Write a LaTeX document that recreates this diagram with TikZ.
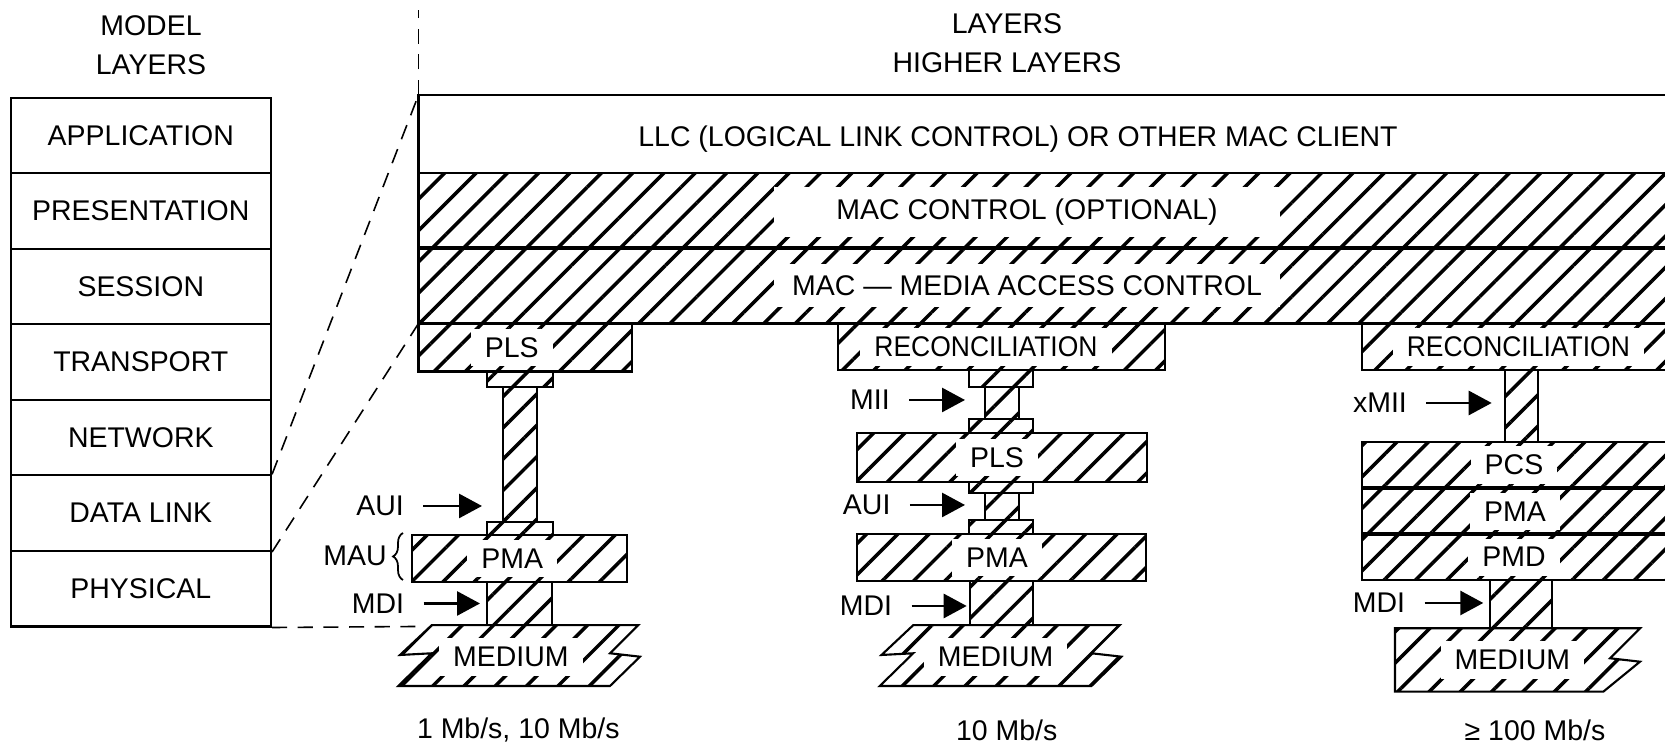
\documentclass[tikz,border=0pt]{standalone}
\usepackage{fontspec}
\setmainfont{Liberation Sans}
\usepackage{graphicx}
\usetikzlibrary{arrows.meta,calc,positioning,decorations.pathreplacing,patterns.meta}

\begin{document}
\begin{tikzpicture}[x=1cm,y=1cm,font=\fontsize{8.1}{11}\selectfont,
  box/.style={draw,line width=.6pt},
  hatch/.style={box,pattern={Lines[angle=45,distance=6.3pt,line width=1pt]}},
  sep/.style={line width=1.2pt},
  osi/.style={box,minimum width=2.604cm,minimum height=.7554cm,inner sep=0pt},
  tag/.style={fill=white,inner xsep=4pt,inner ysep=2.5pt},
  arr/.style={line width=.8pt,shorten <=2pt,-{Triangle[length=2.3mm,width=2.4mm]}},
  lnk/.style={line width=.45pt,dash pattern=on 4.3pt off 3pt}]
 \fill[white,use as bounding box] (0,0) rectangle (16.65,7.43);
 \clip (0,0) rectangle (16.65,7.43);
 \node[align=center] (model) at (1.51,6.98) {MODEL\\LAYERS};
 \foreach \name [count=\i from 0] in {APPLICATION,PRESENTATION,SESSION,TRANSPORT,NETWORK,DATA LINK,PHYSICAL}
    \node[osi] (o\i) at (1.408,{6.453-(\i+.5)*.7554}) {\name};
 \node[align=center] (layers) at (10.07,7.0) {LAYERS\\HIGHER LAYERS};
 \coordinate (top) at (4.185,7.33);
 \coordinate (llctl) at (4.185,6.48);
 \coordinate (mactl) at (4.185,4.195);
 \coordinate (medl) at (4.16,1.165);
 \draw[box] (4.185,6.48) rectangle (16.8,5.70);
 \draw[hatch] (4.185,5.70) rectangle (16.8,4.195);
 \draw[sep] (4.185,4.95) -- (16.8,4.95);
 \node (llc) at (10.18,6.04) {LLC (LOGICAL LINK CONTROL) OR OTHER MAC CLIENT};
 \node[fill=white,minimum width=5.06cm,minimum height=.42cm] (macctl) at (10.27,5.31)
   {MAC CONTROL (OPTIONAL)};
 \node[fill=white,minimum width=5.06cm,minimum height=.37cm] (mac) at (10.27,4.575)
   {MAC — MEDIA ACCESS CONTROL};
 \draw[lnk] (o5.north east) -- (llctl);
 \draw[lnk] (o5.south east) -- (mactl);
 \draw[lnk] (o6.south east) -- (medl);
 \draw[lnk] (llctl) -- (top);
 \draw[hatch] (4.185,4.195) rectangle (6.317,3.715);
 \draw[hatch] (4.873,3.715) rectangle (5.527,3.563);
 \draw[hatch] (5.033,3.563) rectangle (5.367,2.213);
 \draw[hatch] (4.873,2.213) rectangle (5.527,2.08);
 \draw[hatch] (4.123,2.08) rectangle (6.273,1.607);
 \draw[hatch] (4.873,1.607) rectangle (5.517,1.178);
 \draw[hatch] (4.317,1.178) -- (6.383,1.178) -- (6.10,.897) -- (6.40,.863) -- (6.10,.57)
    -- (3.983,.57) -- (4.317,.897) -- (4.00,.88) -- cycle;
 \node[tag] (pls1) at (5.117,3.955) {PLS};
 \node[tag] (pma1) at (5.123,1.843) {PMA};
 \node[tag] (med1) at (5.108,.86) {MEDIUM};
 \node (rate1) at (5.183,.13) {1 Mb/s, 10 Mb/s};
 \node (aui1) at (3.80,2.37) {AUI};
 \coordinate (aui1t) at (4.82,2.37);
 \draw[arr] (aui1) -- (aui1t);
 \node (mau) at (3.55,1.87) {MAU};
 \draw[line width=.5pt,decorate,decoration={brace,amplitude=.1cm}] (4.03,1.63) -- (4.03,2.10);
 \node (mdi1) at (3.78,1.395) {MDI};
 \coordinate (mdi1t) at (4.80,1.395);
 \draw[arr] (mdi1) -- (mdi1t);
 \draw[hatch] (8.383,4.195) rectangle (11.65,3.73);
 \draw[hatch] (9.69,3.73) rectangle (10.333,3.563);
 \draw[hatch] (9.85,3.563) rectangle (10.193,3.237);
 \draw[hatch] (9.69,3.237) rectangle (10.333,3.097);
 \draw[hatch] (8.567,3.097) rectangle (11.467,2.613);
 \draw[hatch] (9.69,2.613) rectangle (10.333,2.497);
 \draw[hatch] (9.85,2.497) rectangle (10.193,2.23);
 \draw[hatch] (9.69,2.23) rectangle (10.333,2.087);
 \draw[hatch] (8.567,2.087) rectangle (11.46,1.62);
 \draw[hatch] (9.70,1.62) rectangle (10.333,1.178);
 \draw[hatch] (9.132,1.178) -- (11.198,1.178) -- (10.915,.897) -- (11.215,.863) -- (10.915,.57)
    -- (8.798,.57) -- (9.132,.897) -- (8.815,.88) -- cycle;
 \node[tag] (rec2) at (9.86,3.96) {\scalebox{.93}[1]{RECONCILIATION}};
 \node[tag] (pls2) at (9.97,2.855) {PLS};
 \node[tag] (pma2) at (9.97,1.853) {PMA};
 \node[tag] (med2) at (9.957,.86) {MEDIUM};
 \node (rate2) at (10.067,.13) {10 Mb/s};
 \node (mii2) at (8.70,3.43) {MII};
 \coordinate (mii2t) at (9.65,3.43);
 \draw[arr] (mii2) -- (mii2t);
 \node (aui2) at (8.667,2.38) {AUI};
 \coordinate (aui2t) at (9.65,2.38);
 \draw[arr] (aui2) -- (aui2t);
 \node (mdi2) at (8.66,1.37) {MDI};
 \coordinate (mdi2t) at (9.667,1.37);
 \draw[arr] (mdi2) -- (mdi2t);
 \draw[hatch] (13.617,4.195) rectangle (16.8,3.73);
 \draw[hatch] (15.05,3.73) rectangle (15.383,3.013);
 \draw[hatch] (13.617,3.013) rectangle (16.8,1.63);
 \draw[sep] (13.617,2.547) -- (16.8,2.547);
 \draw[sep] (13.617,2.087) -- (16.8,2.087);
 \draw[hatch] (14.90,1.63) rectangle (15.517,1.147);
 \draw[hatch] (13.95,1.147) -- (16.40,1.147) -- (16.10,.847) -- (16.40,.813) -- (16.033,.513)
    -- (13.95,.513) -- cycle;
 \node[tag] (rec3) at (15.183,3.96) {\scalebox{.93}[1]{RECONCILIATION}};
 \node[tag] (pcs3) at (15.14,2.78) {PCS};
 \node[tag] (pma3) at (15.15,2.317) {PMA};
 \node[tag] (pmd3) at (15.14,1.858) {PMD};
 \node[tag] (med3) at (15.123,.83) {MEDIUM};
 \node (rate3) at (15.35,.13) {≥ 100 Mb/s};
 \node (xmii3) at (13.80,3.40) {xMII};
 \coordinate (xmii3t) at (14.917,3.40);
 \draw[arr] (xmii3) -- (xmii3t);
 \node (mdi3) at (13.79,1.40) {MDI};
 \coordinate (mdi3t) at (14.833,1.40);
 \draw[arr] (mdi3) -- (mdi3t);
\end{tikzpicture}
\end{document}
